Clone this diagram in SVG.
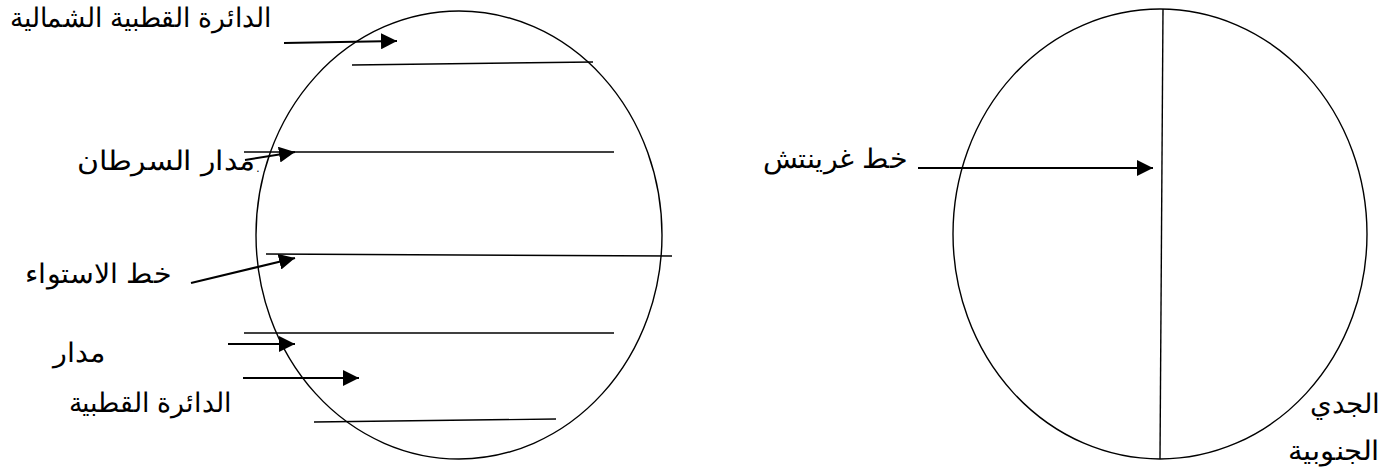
<svg xmlns="http://www.w3.org/2000/svg" width="1396" height="474" viewBox="0 0 1396 474">
<style>
.t{font-family:"Liberation Sans",Arial,sans-serif;font-size:27px;fill:#000;text-anchor:middle}
.s{fill:none;stroke:#000;stroke-width:1.4}
.a{fill:none;stroke:#000;stroke-width:2;marker-end:url(#ah)}
</style>
<defs>
<marker id="ah" markerWidth="8" markerHeight="8" refX="8" refY="4" orient="auto" markerUnits="strokeWidth"><path d="M0,0 L8,4 L0,8 Z" fill="#000"/></marker>
</defs>
<rect width="1396" height="474" fill="#fff"/>
<g id="left-globe">
<ellipse class="s" cx="459" cy="235" rx="203" ry="224"/>
<line class="s" x1="352" y1="65" x2="593" y2="62"/>
<line class="s" x1="244" y1="152" x2="614" y2="152"/>
<line class="s" x1="266" y1="254" x2="672" y2="256"/>
<line class="s" x1="244" y1="333" x2="614" y2="333"/>
<line class="s" x1="314" y1="422" x2="556" y2="419"/>
</g>
<g id="right-globe">
<ellipse class="s" cx="1160" cy="234" rx="207" ry="225"/>
<line class="s" x1="1163" y1="9" x2="1160" y2="459"/>
</g>
<g id="connectors">
<line class="a" x1="284" y1="43" x2="397" y2="41"/>
<line class="a" x1="245" y1="160" x2="295" y2="152"/>
<line class="a" x1="191" y1="283" x2="295" y2="258"/>
<line class="a" x1="228" y1="344" x2="295" y2="344"/>
<line class="a" x1="243" y1="378" x2="359" y2="378"/>
<line class="a" x1="918" y1="168" x2="1153" y2="168"/>
</g>
<g id="labels">
<text class="t" x="141" y="27" textLength="262" lengthAdjust="spacingAndGlyphs">الدائرة القطبية الشمالية</text>
<text class="t" x="166" y="170" textLength="178" lengthAdjust="spacingAndGlyphs">مدار السرطان</text>
<text class="t" x="258" y="172" style="font-size:12px">.</text>
<text class="t" x="98" y="283" textLength="147" lengthAdjust="spacingAndGlyphs">خط الاستواء</text>
<text class="t" x="79" y="362" textLength="52" lengthAdjust="spacingAndGlyphs">مدار</text>
<text class="t" x="150" y="412" textLength="163" lengthAdjust="spacingAndGlyphs">الدائرة القطبية</text>
<text class="t" x="835" y="168" textLength="145" lengthAdjust="spacingAndGlyphs">خط غرينتش</text>
<text class="t" x="1345" y="413" textLength="70" lengthAdjust="spacingAndGlyphs">الجدي</text>
<text class="t" x="1334" y="460" textLength="92" lengthAdjust="spacingAndGlyphs">الجنوبية</text>
</g>
</svg>
